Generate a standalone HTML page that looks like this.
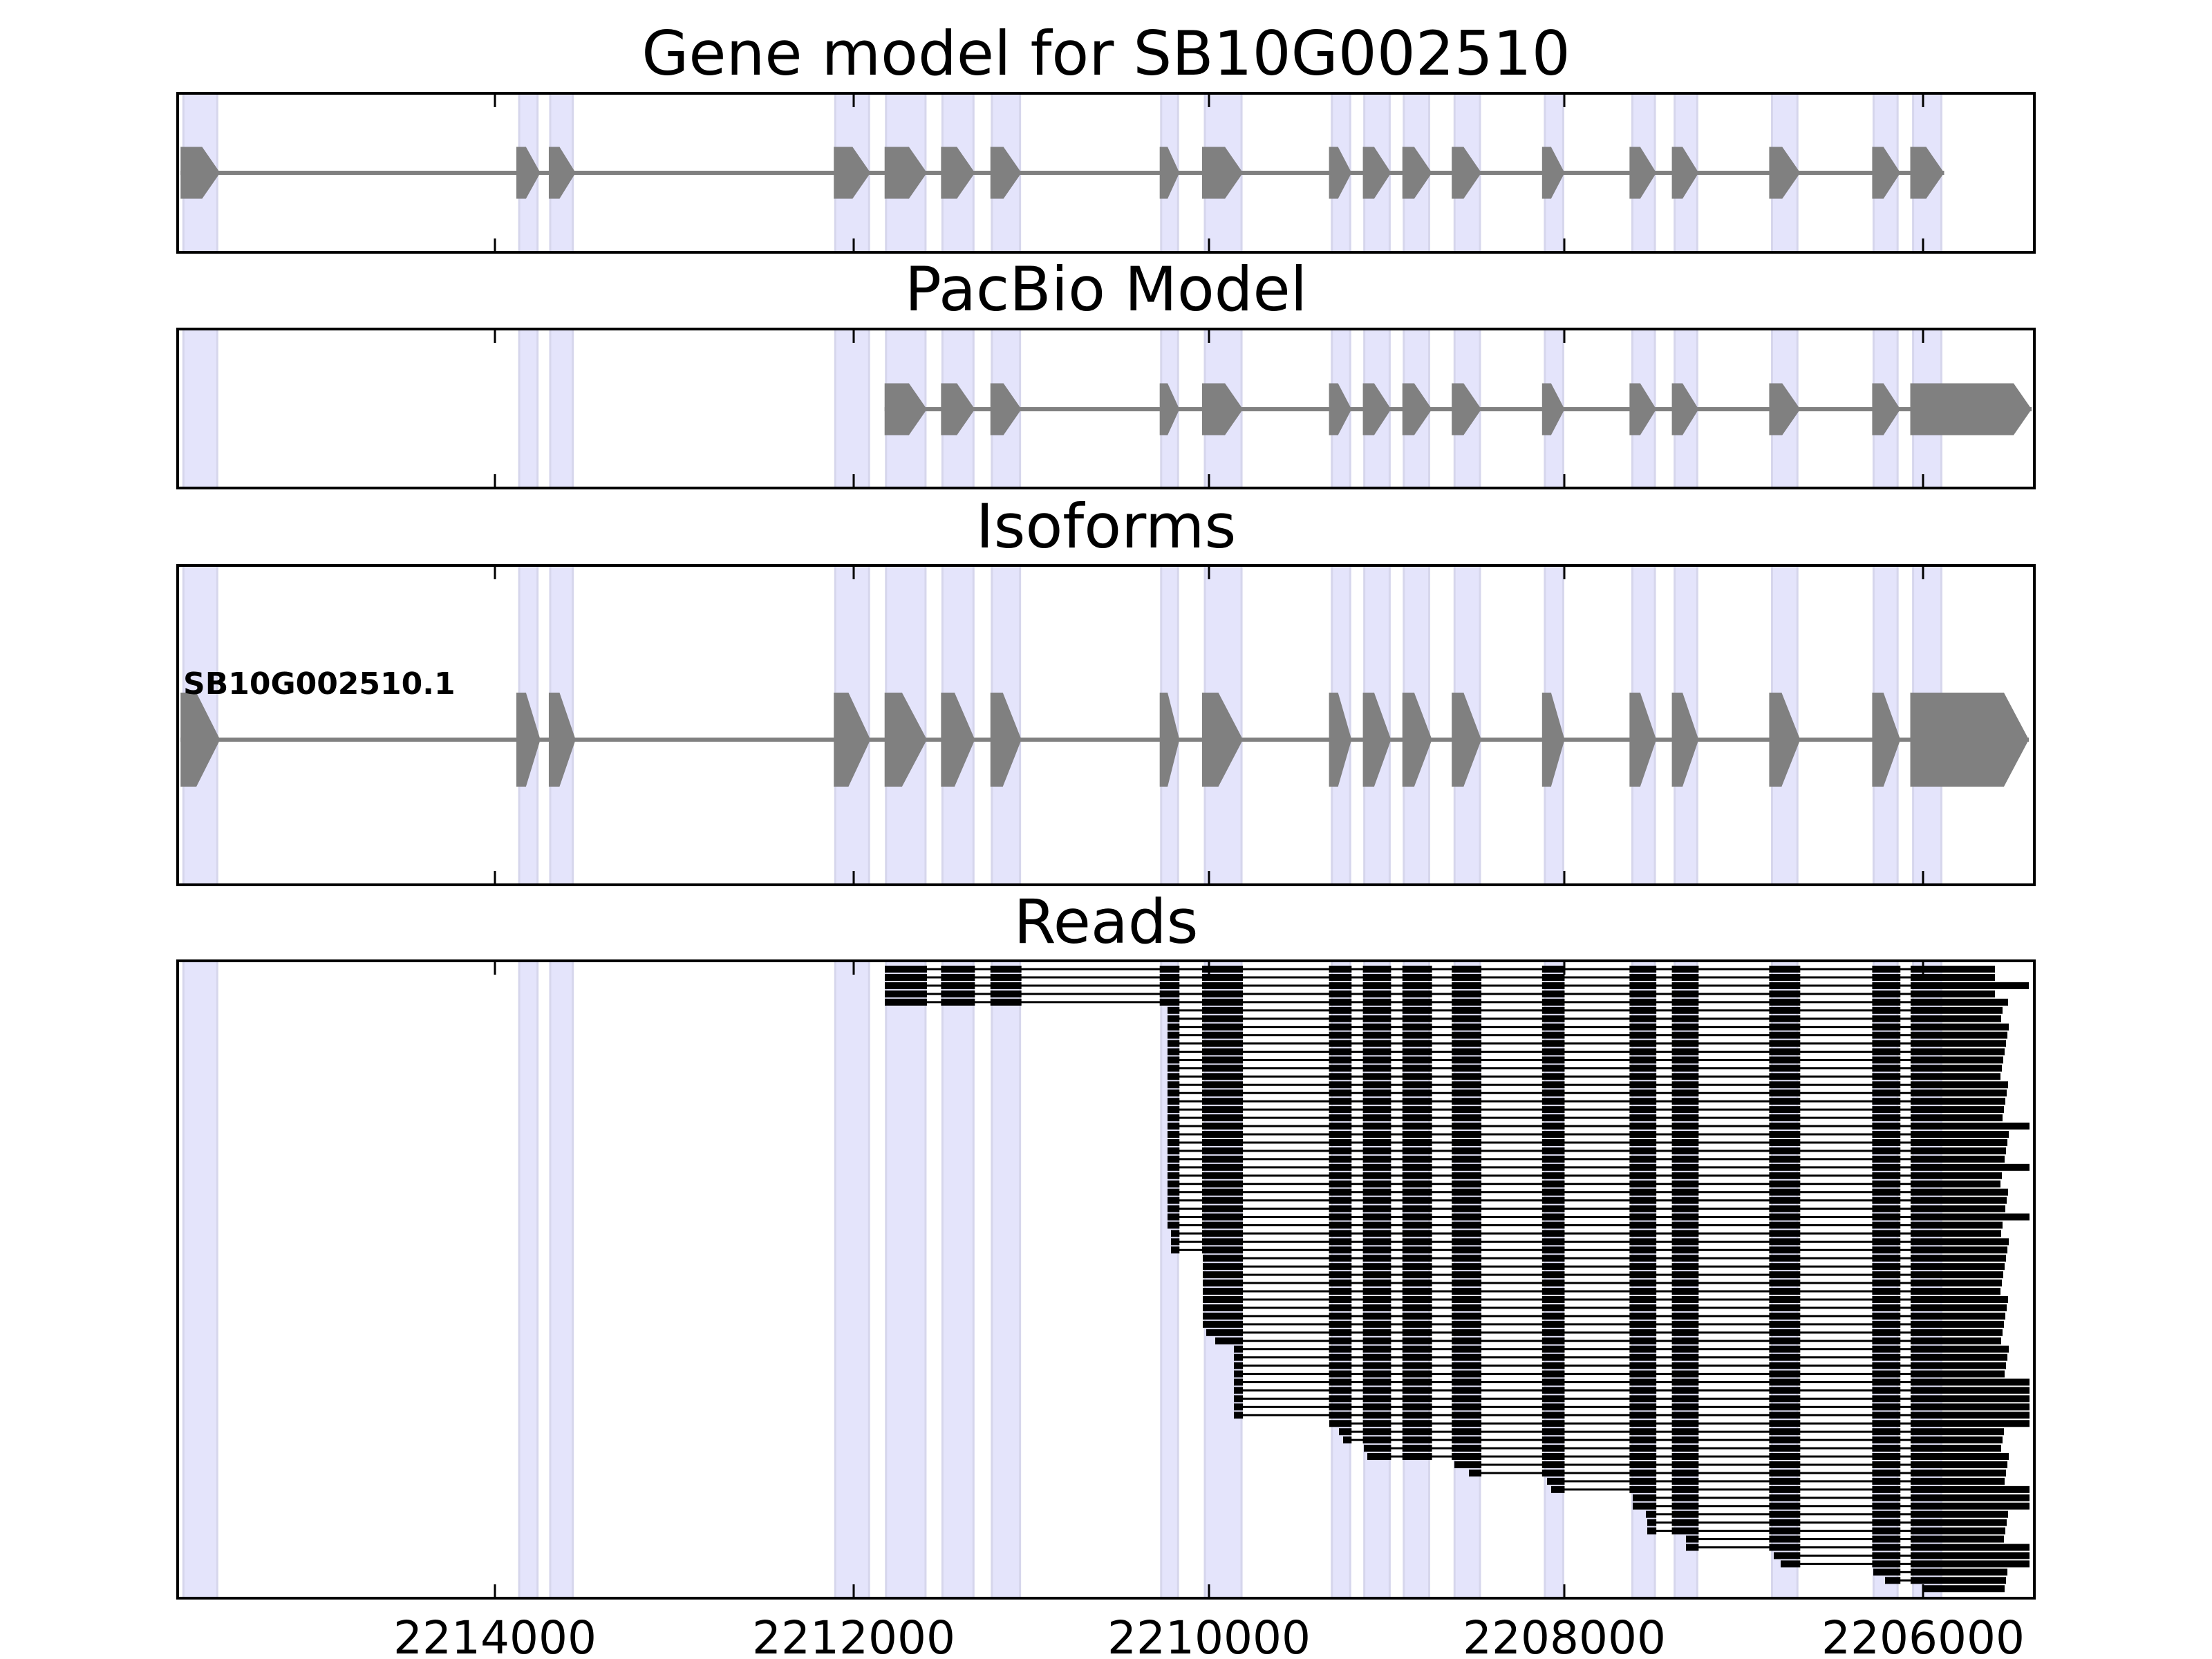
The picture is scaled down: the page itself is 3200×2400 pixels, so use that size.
<!DOCTYPE html>
<html><head><meta charset="utf-8"><style>html,body{margin:0;padding:0;background:#fff}svg{display:block}</style></head>
<body>
<svg id="s" xmlns="http://www.w3.org/2000/svg" width="3200" height="2400" viewBox="0 0 3200 2400" font-family="DejaVu Sans, Liberation Sans, sans-serif">
<rect width="3200" height="2400" fill="#fff"/>
<text x="1600" y="108" font-size="88" text-anchor="middle">Gene model for SB10G002510</text>
<text x="1600" y="449" font-size="88" text-anchor="middle">PacBio Model</text>
<text x="1600" y="792" font-size="88" text-anchor="middle">Isoforms</text>
<text x="1600" y="1364" font-size="88" text-anchor="middle">Reads</text>
<g font-size="66" text-anchor="middle">
<text x="716" y="2392">2214000</text>
<text x="1235" y="2392">2212000</text>
<text x="1749" y="2392">2210000</text>
<text x="2263" y="2392">2208000</text>
<text x="2782" y="2392">2206000</text>
</g>
<g id="g"></g>
<text x="265" y="1004" font-size="44" font-weight="bold">SB10G002510.1</text>
</svg>
<script>
(function(){
var NS="http://www.w3.org/2000/svg",g=document.getElementById("g");
function el(t,a){var e=document.createElementNS(NS,t);for(var k in a)e.setAttribute(k,a[k]);g.appendChild(e);return e;}
var S=2.041;
var bands=[[130,154],[368,381],[390,406],[592,616],[628,656],[668,690],[703,723],[823,835],[854,880],[944,957],[967,985],[995,1013],[1031,1049],[1095,1108],[1157,1173],[1187,1203],[1256,1274],[1328,1345],[1356,1376]];
var ex=[[128,156],[366,383],[389,408],[591,617],[627,657],[667,691],[702,724],[822,836],[852,881],[942,958],[966,986],[994,1015],[1029,1050],[1093,1109],[1155,1174],[1185,1204],[1254,1276],[1327,1347],[1354,1378]];
ex=ex.map(function(e){return [e[0]*S,e[1]*S];});
var axes=[[135,365],[476,706],[818,1280],[1390,2312]];
var L=257,R=2943,ticks=[716,1235,1749,2263,2782];
axes.forEach(function(a){
 bands.forEach(function(b){el("rect",{x:b[0]*S,y:a[0],width:(b[1]-b[0])*S,height:a[1]-a[0],fill:"#e4e4fb",stroke:"#d6d6ec","stroke-width":3});});
});
function gene(list,cy,h,dmax,lastEnd){
 var x0=list[0][0],x1=lastEnd||list[list.length-1][1];
 el("line",{x1:x0,x2:x1,y1:cy,y2:cy,stroke:"#808080","stroke-width":6});
 list.forEach(function(e,i){
  var a=e[0],b=(i==list.length-1&&lastEnd)?lastEnd:e[1],w=b-a,d=Math.min(dmax,w*0.6);
  el("polygon",{points:[a,cy-h/2,b-d,cy-h/2,b,cy,b-d,cy+h/2,a,cy+h/2].join(" "),fill:"#808080"});
 });
}
gene(ex,250,75,26);
gene(ex.slice(4),592,75,26,2939);
gene(ex,1070,136,36,2935);
var st=[];
for(var i=0;i<5;i++)st.push(1280);
for(i=5;i<35;i++)st.push(i>31?1694:1689);
for(i=35;i<44;i++)st.push(1740);
st.push(1745,1758);
for(i=46;i<55;i++)st.push(1785);
st.push(1923,1937,1943,1973,1978,2104,2125,2238,2244,2362,2362,2381,2383,2383,2439,2439,2566,2576,2710,2727,2781);
var ends=[2886,2886,2935,2886,2905];
var longR={50:1,51:1,52:1,53:1,54:1,55:1,63:1,64:1,65:1,70:1,71:1,72:1,19:1,24:1,30:1};
for(i=5;i<st.length;i++){var v=2900+((i*37)%13)-6;if(longR[i])v=2936;ends.push(v);}
var y0=1402,p=11.95;
st.forEach(function(s,i){
 var y=y0+i*p,e=ends[i];
 el("rect",{x:s,y:y-1.5,width:e-s,height:3,fill:"#000"});
 ex.forEach(function(x,j){
  if(x[1]<s) return;
  var a=Math.max(x[0],s),b=(j==ex.length-1)?e:x[1];
  if(j==ex.length-1)a=Math.max(2764,s);
  el("rect",{x:a,y:y-5,width:b-a,height:10,fill:"#000"});
 });
});
axes.forEach(function(a){
 ticks.forEach(function(t){
  el("line",{x1:t,x2:t,y1:a[0],y2:a[0]+20,stroke:"#000","stroke-width":3});
  el("line",{x1:t,x2:t,y1:a[1],y2:a[1]-20,stroke:"#000","stroke-width":3});
 });
 el("rect",{x:L,y:a[0],width:R-L,height:a[1]-a[0],fill:"none",stroke:"#000","stroke-width":4});
});
})();
</script>
</body></html>
